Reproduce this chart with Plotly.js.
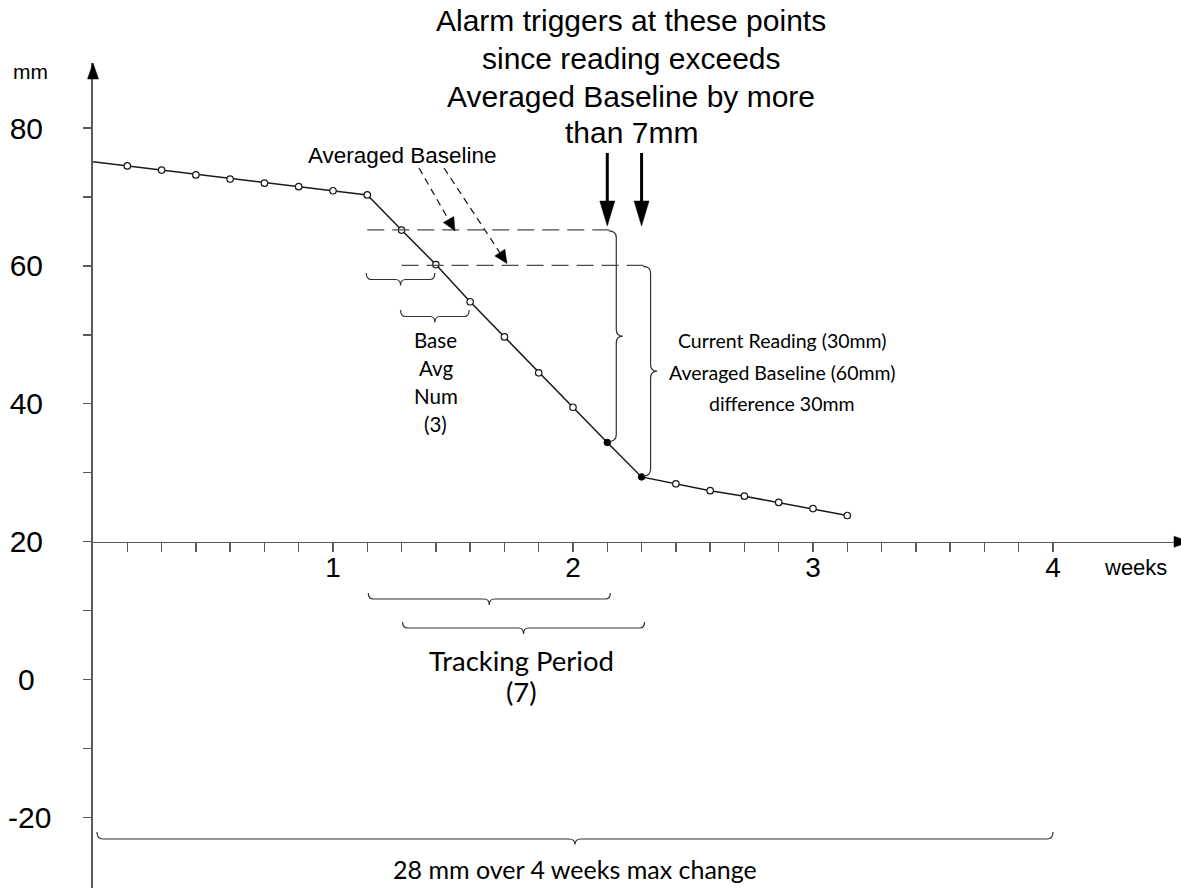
<!DOCTYPE html>
<html><head><meta charset="utf-8">
<script src="https://cdn.plot.ly/plotly-3.0.1.min.js"></script>
<style>html,body{margin:0;padding:0;background:#fff;} #chart{width:1181px;height:892px;}</style>
</head><body><div id="chart"></div>
<script>
// ---------------- data ----------------
const days = [0,1,2,3,4,5,6,7,8,9,10,11,12,13,14,15,16,17,18,19,20,21,22];
const readings = [75.1,74.5,73.9,73.2,72.6,72.0,71.5,70.9,70.3,65.2,60.2,54.8,49.7,44.5,39.5,34.4,29.4,28.4,27.4,26.6,25.7,24.8,23.8];
const alarmDays = [15, 16];
const baselineStartDays = [8, 9];
const baseAvgNum = 3;
const trackingPeriod = 7;
const daysPerWeek = 7;
const weekTicks = [1, 2, 3, 4];
const maxChangeWeeks = 4;
const yTickVals = [-20,-10,0,10,20,30,40,50,60,70,80];
const yLabelVals = [-20,0,20,40,60,80];
const xAxisAt = 20;
const titleLines = ["Alarm triggers at these points","since reading exceeds","Averaged Baseline by more","than 7mm"];
const baselineLabel = "Averaged Baseline";
const noteLines = ["Current Reading (30mm)","Averaged Baseline (60mm)","difference 30mm"];
const baseAvgLines = ["Base","Avg","Num","(3)"];
const trackLines = ["Tracking Period","(7)"];
const maxChangeText = "28 mm over 4 weeks max change";
const yUnit = "mm";
const xUnit = "weeks";

// ---------------- geometry (layout only) ----------------
const FW = 1181, FH = 892;
const L = 93, T = 63, W = FW - L, H = FH - T - 4;
const PXW = 240, PXMM = 6.895;
const XR = [0, W / PXW];
const YTOP = 89.43;
const YR = [YTOP - H / PXMM, YTOP];
const wx = d => d / daysPerWeek;
const px = x => L + (x - XR[0]) * PXW;
const py = y => T + (YR[1] - y) * PXMM;
const ix = p => XR[0] + (p - L) / PXW;
const iy = p => YR[1] - (p - T) / PXMM;
const paperX = p => (p - L) / W;
const paperY = p => 1 - (p - T) / H;
const ARIAL = 'Liberation Sans, Arial, sans-serif';
const CAL = 'Lato, Carlito, Calibri, sans-serif';
const AX = '#5a5a5a';
const INK = '#1a1a1a';

function pathData(segs){
  return segs.map(s => s[0] + (s.length > 1 ? ' ' + s.slice(1).map(p => ix(p[0]) + ',' + iy(p[1])).join(' ') : '')).join(' ');
}
function pathPaper(segs){
  return segs.map(s => s[0] + (s.length > 1 ? ' ' + s.slice(1).map(p => paperX(p[0]) + ',' + paperY(p[1])).join(' ') : '')).join(' ');
}
function hBrace(x1, x2, y0, d, t, r){
  const xm = (x1 + x2) / 2, yl = y0 + d;
  return pathData([['M',[x1,y0]],['Q',[x1,yl],[x1+r,yl]],['L',[xm-r,yl]],['Q',[xm,yl],[xm,yl+t]],
    ['Q',[xm,yl],[xm+r,yl]],['L',[x2-r,yl]],['Q',[x2,yl],[x2,y0]]]);
}
function vBrace(x0, y1, y2, d, t, r){
  const ym = (y1 + y2) / 2, xl = x0 + d;
  return pathData([['M',[x0,y1]],['Q',[xl,y1],[xl,y1+r]],['L',[xl,ym-r]],['Q',[xl,ym],[xl+t,ym]],
    ['Q',[xl,ym],[xl,ym+r]],['L',[xl,y2-r]],['Q',[xl,y2],[x0,y2]]]);
}
function head(tail, tip, len, hw){
  const dx = tip[0]-tail[0], dy = tip[1]-tail[1], n = Math.hypot(dx,dy);
  const ux = dx/n, uy = dy/n;
  const b = [tip[0]-ux*len, tip[1]-uy*len];
  return {base: b, path: pathData([['M',tip],['L',[b[0]-uy*hw, b[1]+ux*hw]],['L',[b[0]+uy*hw, b[1]-ux*hw]],['Z']])};
}

const value = d => readings[days.indexOf(d)];
const baselines = baselineStartDays.map(s => {
  let sum = 0; for (let k = 0; k < baseAvgNum; k++) sum += value(s + k);
  return sum / baseAvgNum;
});

// ---------------- traces ----------------
const lineTrace = {x: days.map(wx), y: readings, mode: 'lines', line: {color: INK, width: 1.5}, hoverinfo: 'skip'};
const openDays = days.filter(d => d > 0 && alarmDays.indexOf(d) < 0);
const openTrace = {x: openDays.map(wx), y: openDays.map(value), mode: 'markers',
  marker: {symbol: 'circle', size: 6.5, color: '#fff', line: {color: INK, width: 1.2}}, hoverinfo: 'skip'};
const alarmTrace = {x: alarmDays.map(wx), y: alarmDays.map(value), mode: 'markers',
  marker: {symbol: 'circle', size: 6.5, color: '#000', line: {color: '#000', width: 1}}, hoverinfo: 'skip'};

// ---------------- shapes ----------------
const shapes = [];
const braceLine = {color: '#333', width: 1.2};
const dashEndPad = [2, 5];
baselineStartDays.forEach((s, i) => {
  const endDay = s + trackingPeriod;
  shapes.push({type: 'line', xref: 'x', yref: 'y', x0: wx(s), x1: ix(px(wx(endDay)) + dashEndPad[i]),
    y0: baselines[i], y1: baselines[i], line: {color: '#4a4a4a', width: 1.3, dash: '17px,8px'}});
  shapes.push({type: 'path', xref: 'x', yref: 'y', path: vBrace(px(wx(endDay)) + 1.5, py(baselines[i]) + 1, py(value(endDay)) - 1, 7.5, 6.5, 7), line: braceLine});
});
const baseAvgBraceTop = [273, 310];
baselineStartDays.forEach((s, i) => {
  shapes.push({type: 'path', xref: 'x', yref: 'y', path: hBrace(px(wx(s)) - 1, px(wx(s + baseAvgNum - 1)) - 1, baseAvgBraceTop[i], 6.5, 6, 5), line: braceLine});
});
const trackBraceTop = [593, 622];
baselineStartDays.forEach((s, i) => {
  shapes.push({type: 'path', xref: 'x', yref: 'y', path: hBrace(px(wx(s)) + 1, px(wx(s + trackingPeriod)) + 3, trackBraceTop[i], 6, 6, 5), line: braceLine});
});
shapes.push({type: 'path', xref: 'x', yref: 'y', path: hBrace(px(0) + 4, px(maxChangeWeeks), 832, 7, 5.5, 6), line: braceLine});
alarmDays.forEach(d => {
  const x = px(wx(d)), tail = [x, 153], tip = [x, 226];
  const h = head(tail, tip, 25, 7.5);
  shapes.push({type: 'line', xref: 'x', yref: 'y', x0: ix(x), x1: ix(x), y0: iy(tail[1]), y1: iy(h.base[1] + 2), line: {color: '#000', width: 3}});
  shapes.push({type: 'path', xref: 'x', yref: 'y', path: h.path, fillcolor: '#000', line: {color: '#000', width: 0.5}});
});
const dashTails = [[419, 168], [444, 168]];
const dashTipX = [455, 507];
const dashTipOffset = [1, -2];
baselines.forEach((b, i) => {
  const tip = [dashTipX[i], py(b) + dashTipOffset[i]];
  const h = head(dashTails[i], tip, 13, 6);
  shapes.push({type: 'line', xref: 'x', yref: 'y', x0: ix(dashTails[i][0]), y0: iy(dashTails[i][1]), x1: ix(h.base[0]), y1: iy(h.base[1]),
    line: {color: '#222', width: 1.3, dash: '7px,5px'}});
  shapes.push({type: 'path', xref: 'x', yref: 'y', path: h.path, fillcolor: '#000', line: {color: '#000', width: 0.5}});
});
shapes.push({type: 'path', xref: 'paper', yref: 'paper', path: pathPaper([['M',[L,T]],['L',[L-5.5,T+16]],['L',[L+5.5,T+16]],['Z']]), fillcolor: '#000', line: {color: '#000', width: 0.5}});
const xAxisPx = py(xAxisAt);
shapes.push({type: 'path', xref: 'paper', yref: 'paper', path: pathPaper([['M',[FW+9,xAxisPx]],['L',[FW-7,xAxisPx-5.5]],['L',[FW-7,xAxisPx+5.5]],['Z']]), fillcolor: '#000', line: {color: '#000', width: 0.5}});

// ---------------- annotations (paper-positioned text) ----------------
const ann = [];
function txt(text, xp, yp, family, size){
  ann.push({text: text, xref: 'paper', yref: 'paper', x: paperX(xp), y: paperY(yp), showarrow: false,
    xanchor: 'center', yanchor: 'middle', font: {family: family, size: size, color: '#000'}});
}
const titleY = [21, 59, 96, 132];
titleLines.forEach((t, i) => txt(t, 631, titleY[i], ARIAL, 30));
txt(baselineLabel, 401.5, 155, ARIAL, 22.5);
const noteY = [341, 372, 403];
noteLines.forEach((t, i) => txt(t, 782, noteY[i], CAL, 19.5));
const baseAvgY = [340, 368, 396, 424];
baseAvgLines.forEach((t, i) => txt(t, px(wx(baselineStartDays[1] + 1)), baseAvgY[i], CAL, 20.5));
const trackY = [660, 691];
trackLines.forEach((t, i) => txt(t, (px(wx(baselineStartDays[1])) + px(wx(baselineStartDays[1] + trackingPeriod))) / 2, trackY[i], CAL, 27.5));
txt(maxChangeText, (px(0) + 4 + px(maxChangeWeeks)) / 2, 869, CAL, 25);
txt(yUnit, 30, 72, ARIAL, 21);
txt(xUnit, 1135, 567, ARIAL, 22);

// ---------------- axes ----------------
const xTickDays = [];
for (let d = 1; d <= maxChangeWeeks * daysPerWeek; d++) xTickDays.push(d);
const xTickVals = xTickDays.map(wx);
const xTickText = xTickDays.map(d => (d % daysPerWeek === 0 && weekTicks.indexOf(d / daysPerWeek) >= 0) ? String(d / daysPerWeek) : '');
const PSP = '\u2008';
const yTickText = yTickVals.map(v => yLabelVals.indexOf(v) < 0 ? '' : (v < 0 ? String(v) : (v === 0 ? '0' + PSP + PSP : String(v) + PSP)));

const layout = {
  width: FW, height: FH,
  margin: {l: L, r: FW - L - W, t: T, b: FH - T - H, pad: 0, autoexpand: false},
  paper_bgcolor: '#fff', plot_bgcolor: '#fff', showlegend: false,
  xaxis: {range: XR, anchor: 'free', position: (xAxisAt - YR[0]) / (YR[1] - YR[0]),
    showline: true, linecolor: AX, linewidth: 1.6, ticks: 'outside', ticklen: 9, tickwidth: 1.3, tickcolor: AX,
    tickmode: 'array', tickvals: xTickVals, ticktext: xTickText, tickfont: {family: ARIAL, size: 28, color: '#000'},
    showgrid: false, zeroline: false, automargin: false, fixedrange: true, ticklabelstandoff: -9},
  yaxis: {range: YR, anchor: 'x', showline: true, linecolor: AX, linewidth: 1.6, ticks: 'outside', ticklen: 8, tickwidth: 1.3, tickcolor: AX,
    tickmode: 'array', tickvals: yTickVals, ticktext: yTickText,
    tickfont: {family: ARIAL, size: 30, color: '#000'},
    showgrid: false, zeroline: false, automargin: false, fixedrange: true, ticklabelstandoff: 26},
  shapes: shapes, annotations: ann
};
Plotly.newPlot('chart', [lineTrace, openTrace, alarmTrace], layout, {displayModeBar: false, staticPlot: true});
</script></body></html>
